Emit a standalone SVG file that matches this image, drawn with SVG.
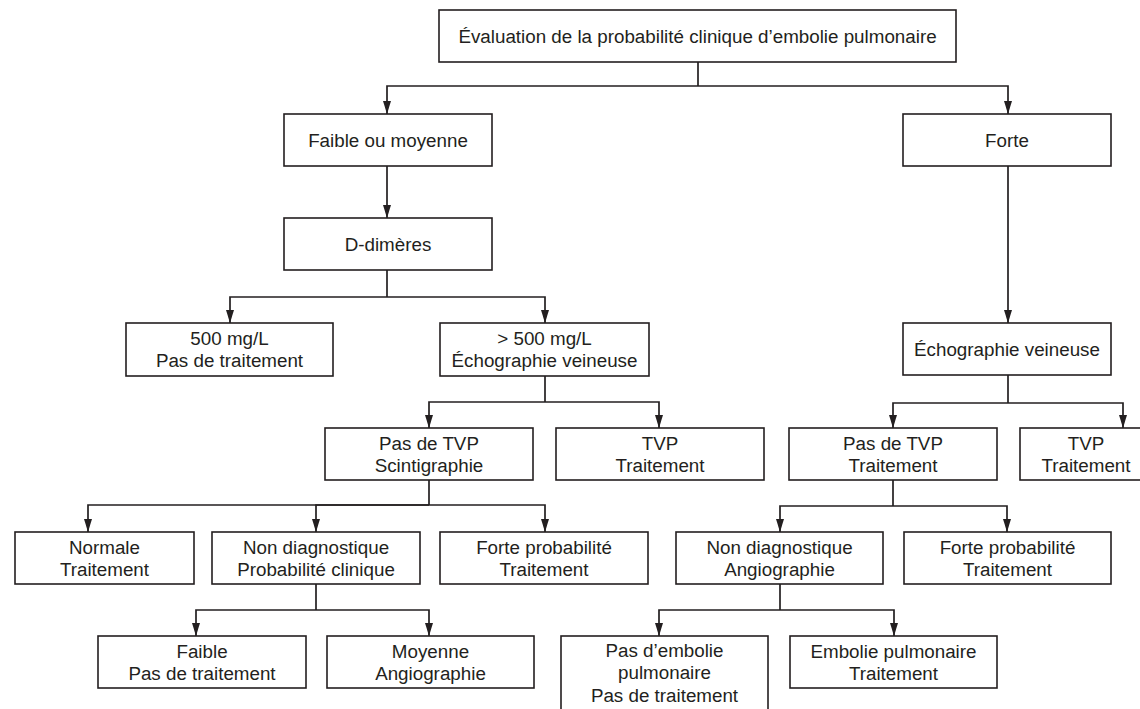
<svg xmlns="http://www.w3.org/2000/svg" width="1140" height="709" viewBox="0 0 1140 709">
<style>
rect.b{fill:#fff;stroke:#231f20;stroke-width:1.6}
text{font-family:"Liberation Sans",Arial,sans-serif;font-size:18.8px;fill:#231f20;text-anchor:middle}
.c path{fill:none;stroke:#231f20;stroke-width:1.7}
.a{marker-end:url(#ah)}
</style>
<defs>
<marker id="ah" markerUnits="userSpaceOnUse" markerWidth="13" markerHeight="8" refX="13" refY="4" orient="auto">
<path d="M0,0 L13,4 L0,8 z" fill="#231f20"/>
</marker>
</defs>
<rect width="1140" height="709" fill="#fff"/>
<g class="c" id="connectors">
<path d="M698,62 V86"/>
<path class="a" d="M698,86 H387 V114"/>
<path class="a" d="M698,86 H1008 V114"/>
<path class="a" d="M387,166 V218"/>
<path d="M387,270 V297"/>
<path class="a" d="M387,297 H230 V323"/>
<path class="a" d="M387,297 H545 V323"/>
<path class="a" d="M1008,166 V323"/>
<path d="M545,376 V402"/>
<path class="a" d="M545,402 H429 V428"/>
<path class="a" d="M545,402 H659 V428"/>
<path d="M1008,375 V403"/>
<path class="a" d="M1008,403 H893 V428"/>
<path class="a" d="M1008,403 H1123 V428"/>
<path d="M429,480 V505"/>
<path class="a" d="M429,505 H88 V532"/>
<path class="a" d="M429,505 H316 V532"/>
<path class="a" d="M429,505 H545 V532"/>
<path d="M893,480 V506"/>
<path class="a" d="M893,506 H780 V532"/>
<path class="a" d="M893,506 H1007 V532"/>
<path d="M316,584 V610"/>
<path class="a" d="M316,610 H196 V636"/>
<path class="a" d="M316,610 H429 V636"/>
<path d="M780,584 V610"/>
<path class="a" d="M780,610 H659 V636"/>
<path class="a" d="M780,610 H894 V636"/>
</g>
<g id="n-eval"><rect class="b" x="439" y="10" width="517" height="52"/><text x="697.5" y="43">Évaluation de la probabilité clinique d’embolie pulmonaire</text></g>
<g id="n-faible-moy"><rect class="b" x="284" y="114" width="208" height="52"/><text x="388" y="147">Faible ou moyenne</text></g>
<g id="n-forte"><rect class="b" x="903" y="114" width="208" height="52"/><text x="1007" y="147">Forte</text></g>
<g id="n-ddim"><rect class="b" x="284" y="218" width="208" height="52"/><text x="388" y="251">D-dimères</text></g>
<g id="n-500"><rect class="b" x="126" y="323" width="207" height="53"/><text x="229.5" y="345">500 mg/L</text><text x="229.5" y="367">Pas de traitement</text></g>
<g id="n-sup500"><rect class="b" x="440" y="323" width="209" height="53"/><text x="544.5" y="345">&gt; 500 mg/L</text><text x="544.5" y="367">Échographie veineuse</text></g>
<g id="n-echo"><rect class="b" x="903" y="323" width="208" height="52"/><text x="1007" y="356">Échographie veineuse</text></g>
<g id="n-pastvp-scint"><rect class="b" x="325" y="428" width="208" height="52"/><text x="429" y="450">Pas de TVP</text><text x="429" y="472">Scintigraphie</text></g>
<g id="n-tvp1"><rect class="b" x="556" y="428" width="208" height="52"/><text x="660" y="450">TVP</text><text x="660" y="472">Traitement</text></g>
<g id="n-pastvp-trait"><rect class="b" x="789" y="428" width="208" height="52"/><text x="893" y="450">Pas de TVP</text><text x="893" y="472">Traitement</text></g>
<g id="n-tvp2"><rect class="b" x="1020" y="428" width="132" height="52"/><text x="1086" y="450">TVP</text><text x="1086" y="472">Traitement</text></g>
<g id="n-normale"><rect class="b" x="15" y="532" width="179" height="52"/><text x="104.5" y="554">Normale</text><text x="104.5" y="576">Traitement</text></g>
<g id="n-nondiag-prob"><rect class="b" x="212" y="532" width="208" height="52"/><text x="316" y="554">Non diagnostique</text><text x="316" y="576">Probabilité clinique</text></g>
<g id="n-forteprob1"><rect class="b" x="440" y="532" width="208" height="52"/><text x="544" y="554">Forte probabilité</text><text x="544" y="576">Traitement</text></g>
<g id="n-nondiag-angio"><rect class="b" x="676" y="532" width="207" height="52"/><text x="779.5" y="554">Non diagnostique</text><text x="779.5" y="576">Angiographie</text></g>
<g id="n-forteprob2"><rect class="b" x="904" y="532" width="207" height="52"/><text x="1007.5" y="554">Forte probabilité</text><text x="1007.5" y="576">Traitement</text></g>
<g id="n-faible"><rect class="b" x="98" y="636" width="208" height="52"/><text x="202" y="658">Faible</text><text x="202" y="680">Pas de traitement</text></g>
<g id="n-moyenne"><rect class="b" x="327" y="636" width="207" height="52"/><text x="430.5" y="658">Moyenne</text><text x="430.5" y="680">Angiographie</text></g>
<g id="n-pasembolie"><rect class="b" x="561" y="636" width="207" height="80"/><text x="664.5" y="657">Pas d’embolie</text><text x="664.5" y="679">pulmonaire</text><text x="664.5" y="702">Pas de traitement</text></g>
<g id="n-embolie"><rect class="b" x="790" y="636" width="207" height="52"/><text x="893.5" y="658">Embolie pulmonaire</text><text x="893.5" y="680">Traitement</text></g>
</svg>
